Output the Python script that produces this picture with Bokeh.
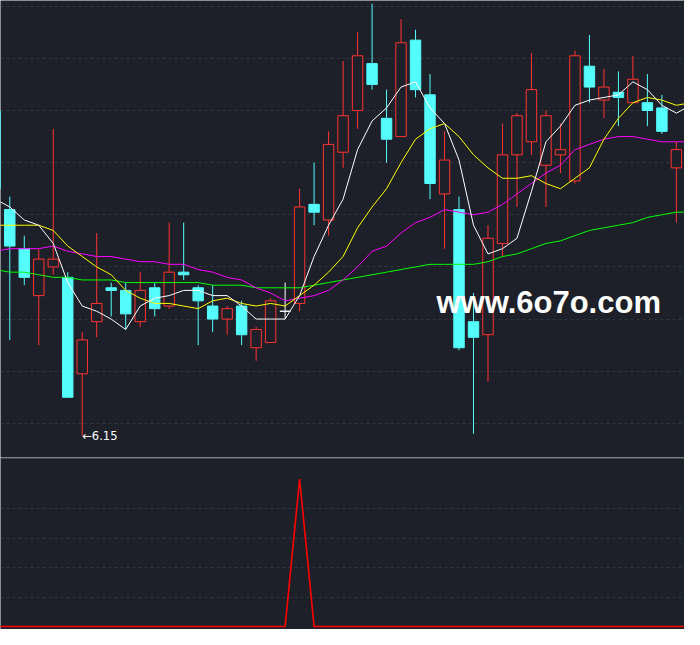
from bokeh.plotting import figure
from bokeh.layouts import column
from bokeh.models import Span, Label, Range1d, ColumnDataSource, FixedTicker
from bokeh.embed import file_html
from bokeh.resources import INLINE
from bokeh.core.properties import value

# ---------------- data ----------------
idx = list(range(-1, 47))
opens = [7.40, 7.02, 6.87, 6.69, 6.80, 6.76, 6.39, 6.59, 6.72, 6.71, 6.59, 6.72, 6.65, 6.78,
         6.72, 6.65, 6.60, 6.65, 6.49, 6.51, 6.63, 6.66, 7.04, 6.98, 7.24, 7.40, 7.58, 7.37,
         7.30, 7.67, 7.46, 7.08, 7.02, 6.59, 6.54, 6.89, 7.23, 7.28, 7.19, 7.23, 7.13, 7.57,
         7.44, 7.47, 7.43, 7.43, 7.41, 7.18]
highs = [7.42, 7.07, 6.92, 6.87, 7.33, 6.78, 6.55, 6.93, 6.74, 6.74, 6.78, 6.74, 6.97, 6.97,
         6.73, 6.73, 6.65, 6.67, 6.57, 6.68, 6.74, 7.10, 7.20, 7.32, 7.59, 7.70, 7.81, 7.48,
         7.75, 7.71, 7.54, 7.32, 7.07, 6.70, 6.96, 7.35, 7.39, 7.62, 7.40, 7.35, 7.63, 7.69,
         7.56, 7.55, 7.61, 7.54, 7.46, 7.28]
lows = [7.08, 6.52, 6.73, 6.50, 6.77, 6.30, 6.15, 6.53, 6.61, 6.56, 6.57, 6.61, 6.64, 6.75,
        6.50, 6.55, 6.54, 6.50, 6.44, 6.51, 6.60, 6.63, 6.96, 6.92, 7.18, 7.33, 7.48, 7.20,
        7.30, 7.45, 7.06, 6.87, 6.48, 6.16, 6.36, 6.84, 7.03, 7.23, 7.03, 7.16, 7.12, 7.43,
        7.37, 7.34, 7.43, 7.34, 7.31, 6.97]
closes = [7.10, 6.88, 6.76, 6.83, 6.83, 6.30, 6.52, 6.66, 6.71, 6.62, 6.71, 6.64, 6.78, 6.77,
          6.67, 6.60, 6.64, 6.54, 6.56, 6.67, 6.63, 7.03, 7.01, 7.27, 7.38, 7.61, 7.50, 7.29,
          7.66, 7.48, 7.12, 7.21, 6.49, 6.53, 6.91, 7.23, 7.38, 7.48, 7.38, 7.25, 7.61, 7.49,
          7.49, 7.45, 7.52, 7.40, 7.32, 7.25]

ma_idx = list(range(-1, 48))
ma5 = [7.06, 7.03, 6.98, 6.96, 6.89, 6.74, 6.65, 6.63, 6.60, 6.56, 6.65, 6.68, 6.69, 6.71,
       6.71, 6.69, 6.69, 6.65, 6.60, 6.60, 6.60, 6.69, 6.84, 6.96, 7.06, 7.25, 7.36, 7.41,
       7.49, 7.51, 7.41, 7.35, 7.21, 6.96, 6.85, 6.87, 6.91, 7.09, 7.28, 7.34, 7.42, 7.44,
       7.45, 7.46, 7.51, 7.48, 7.42, 7.39, 7.42]
ma10 = [6.96, 6.96, 6.96, 6.96, 6.94, 6.88, 6.84, 6.80, 6.77, 6.71, 6.68, 6.66, 6.66, 6.65,
        6.64, 6.67, 6.68, 6.66, 6.65, 6.66, 6.65, 6.69, 6.73, 6.78, 6.84, 6.95, 7.03, 7.10,
        7.20, 7.29, 7.33, 7.35, 7.30, 7.23, 7.18, 7.14, 7.14, 7.15, 7.12, 7.10, 7.14, 7.18,
        7.29, 7.37, 7.43, 7.45, 7.44, 7.42, 7.43]
ma20 = [6.86, 6.87, 6.87, 6.87, 6.88, 6.86, 6.85, 6.84, 6.84, 6.83, 6.82, 6.82, 6.81, 6.81,
        6.79, 6.78, 6.76, 6.75, 6.72, 6.70, 6.67, 6.68, 6.69, 6.71, 6.75, 6.80, 6.86, 6.88,
        6.93, 6.97, 6.99, 7.02, 7.01, 7.00, 7.01, 7.04, 7.08, 7.12, 7.16, 7.19, 7.25, 7.27,
        7.29, 7.30, 7.30, 7.29, 7.28, 7.28, 7.28]
ma60 = [6.79, 6.78, 6.78, 6.77, 6.76, 6.76, 6.75, 6.75, 6.75, 6.74, 6.74, 6.74, 6.74, 6.74,
        6.74, 6.73, 6.73, 6.73, 6.72, 6.72, 6.72, 6.72, 6.73, 6.74, 6.75, 6.76, 6.77, 6.78,
        6.79, 6.80, 6.81, 6.81, 6.81, 6.81, 6.82, 6.84, 6.85, 6.87, 6.89, 6.90, 6.92, 6.94,
        6.95, 6.96, 6.97, 6.99, 7.00, 7.01, 7.01]
signal = [0, 0, 0, 0, 0, 0, 0, 0, 0, 0, 0, 0, 0, 0, 0, 0, 0, 0, 0, 0, 0, 1, 0, 0, 0, 0, 0, 0,
          0, 0, 0, 0, 0, 0, 0, 0, 0, 0, 0, 0, 0, 0, 0, 0, 0, 0, 0, 0, 0]

price_grid = [6.2, 6.4, 6.6, 6.8, 7.0, 7.2, 7.4, 7.6, 7.8]
signal_grid = [0.2, 0.4, 0.6, 0.8]
watermark = "www.6o7o.com"

# ---------------- style ----------------
BG = "#1d2028"
GRID = "#30343d"
UP = "#ff3232"
DOWN = "#54fcfc"
FLAT = "#ffffff"

W = 684
H1 = 457
H2 = 172

xr = Range1d(-0.64, 46.56)

p1 = figure(width=W, height=H1, x_range=xr, y_range=Range1d(6.069, 7.822),
            output_backend="svg", toolbar_location=None, min_border=0,
            x_axis_location=None, y_axis_location=None,
            background_fill_color=BG, border_fill_color=BG, outline_line_color=None)
p1.xgrid.visible = False
p1.ygrid.ticker = FixedTicker(ticks=price_grid)
p1.ygrid.grid_line_color = GRID
p1.ygrid.grid_line_dash = "3 3"
p1.ygrid.grid_line_width = 1

line_cols = []
fill_cols = []
for o, c in zip(opens, closes):
    if c > o:
        line_cols.append(UP); fill_cols.append(BG)
    elif c < o:
        line_cols.append(DOWN); fill_cols.append(DOWN)
    else:
        line_cols.append(FLAT); fill_cols.append(FLAT)

src = ColumnDataSource(dict(x=idx, o=opens, h=highs, l=lows, c=closes,
                            top=[max(a, b) for a, b in zip(opens, closes)],
                            bot=[min(a, b) for a, b in zip(opens, closes)],
                            lc=line_cols, fc=fill_cols))

p1.segment(x0="x", y0="h", x1="x", y1="l", line_color="lc", line_width=1, source=src)
p1.vbar(x="x", top="top", bottom="bot", width=0.72, fill_color="fc", line_color="lc",
        line_width=1, source=src)

for ys, col in ((ma60, "#00ff00"), (ma20, "#ff00ff"), (ma10, "#ffff00"), (ma5, "#ffffff")):
    p1.line(ma_idx, ys, line_color=col, line_width=1)

# lowest-low marker
lo_i = min(range(len(lows)), key=lambda k: lows[k])
p1.text(x=[idx[lo_i]], y=[lows[lo_i]], text=["←%.2f" % lows[lo_i]],
        text_color="#ffffff", text_font=value("DejaVu Sans"), text_font_size="11.5px",
        text_align="left", text_baseline="middle")

p1.add_layout(Label(x=37.19, y=6.662, text=watermark, text_color="#ffffff",
                    text_font="Liberation Sans", text_font_style="bold",
                    text_font_size="31px", text_align="center",
                    text_baseline="alphabetic"))

p2 = figure(width=W, height=H2, x_range=xr, y_range=Range1d(-0.0199, 1.1457),
            output_backend="svg", toolbar_location=None, min_border=0,
            x_axis_location=None, y_axis_location=None,
            background_fill_color=BG, border_fill_color=BG, outline_line_color=None)
p2.xgrid.visible = False
p2.ygrid.ticker = FixedTicker(ticks=signal_grid)
p2.ygrid.grid_line_color = GRID
p2.ygrid.grid_line_dash = "3 3"
p2.add_layout(Span(location=1.1404, dimension="width", line_color="#46484f", line_width=1.5))
p2.line(ma_idx, signal, line_color="#ff0000", line_width=1.6)

layout = column(p1, p2, spacing=0)
open("out.html", "w").write(file_html(layout, INLINE))
